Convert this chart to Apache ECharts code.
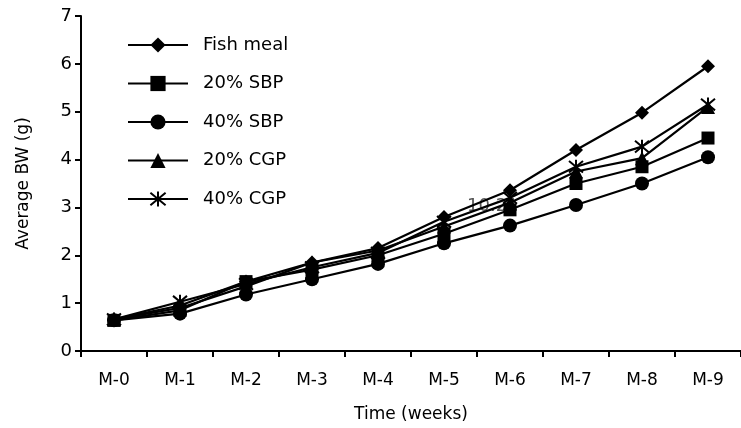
<!DOCTYPE html>
<html><head><meta charset="utf-8">
<script src="https://cdn.jsdelivr.net/npm/echarts@6/dist/echarts.min.js"></script>
<style>html,body{margin:0;padding:0;background:#fff}#c{width:741px;height:428px}</style>
</head><body><div id="c"></div>
<script>
const categories = ['M-0','M-1','M-2','M-3','M-4','M-5','M-6','M-7','M-8','M-9'];
const fishMeal = [0.66, 0.95, 1.45, 1.85, 2.15, 2.80, 3.36, 4.20, 4.98, 5.95];
const sbp20    = [0.64, 0.85, 1.45, 1.70, 2.00, 2.45, 2.95, 3.50, 3.85, 4.45];
const sbp40    = [0.64, 0.78, 1.18, 1.50, 1.82, 2.25, 2.62, 3.05, 3.50, 4.05];
const cgp20    = [0.66, 0.90, 1.35, 1.85, 2.10, 2.60, 3.10, 3.75, 4.03, 5.10];
const cgp40    = [0.66, 1.03, 1.40, 1.75, 2.05, 2.70, 3.20, 3.85, 4.27, 5.15];
const seriesNames = ['Fish meal','20% SBP','40% SBP','20% CGP','40% CGP'];
const yTicks = [0,1,2,3,4,5,6,7];

const FONT = '"DejaVu Sans", Verdana, sans-serif';
const star = 'path://M0,0L10,10M10,0L0,10M5,-1L5,11';
const symbols = ['diamond','rect','circle','triangle', star];
const sizes = [14, 13, 14, 14, 14];
const datas = [fishMeal, sbp20, sbp40, cgp20, cgp40];

const chart = echarts.init(document.getElementById('c'));
chart.setOption({
  animation: false,
  backgroundColor: '#fff',
  textStyle: {fontFamily: FONT},
  grid: {left: 81, right: -4, top: 16, bottom: 77},
  legend: {
    orient: 'vertical', left: 122, top: 31,
    itemWidth: 60, itemHeight: 19, itemGap: 20.5,
    textStyle: {fontSize: 18, color: '#000', fontFamily: FONT, padding: [0,0,0,10]},
    data: seriesNames
  },
  xAxis: {
    type: 'category', data: categories, boundaryGap: true,
    axisLine: {lineStyle: {color: '#000', width: 2}},
    axisTick: {show: true, length: 6, inside: false, lineStyle: {color: '#000', width: 2}},
    axisLabel: {color: '#000', fontSize: 17, margin: 21, fontFamily: FONT},
    name: 'Time (weeks)', nameLocation: 'middle', nameGap: 55,
    nameTextStyle: {color: '#000', fontSize: 17, fontFamily: FONT}
  },
  yAxis: {
    type: 'value', min: 0, max: 7, interval: 1,
    splitLine: {show: false},
    axisLine: {show: true, lineStyle: {color: '#000', width: 2}},
    axisTick: {show: true, length: 6, lineStyle: {color: '#000', width: 2}},
    axisLabel: {color: '#000', fontSize: 18, margin: 9, fontFamily: FONT,
      formatter: v => yTicks.includes(v) ? String(v) : ''},
    name: 'Average BW (g)', nameLocation: 'middle', nameGap: 49, nameRotate: 90,
    nameTextStyle: {color: '#000', fontSize: 17, fontFamily: FONT}
  },
  graphic: [{
    type: 'text', left: 467, top: 197, silent: true,
    style: {text: '10.21', fill: '#555', fontSize: 18, fontFamily: FONT}
  }],
  series: seriesNames.map((n, i) => ({
    name: n, type: 'line', data: datas[i],
    symbol: symbols[i], symbolSize: sizes[i], showAllSymbol: true,
    lineStyle: {color: '#000', width: 2.2},
    itemStyle: i === 4 ? {color: '#000', borderColor: '#000', borderWidth: 2} : {color: '#000'},
    z: 5 - i
  }))
});
</script></body></html>
